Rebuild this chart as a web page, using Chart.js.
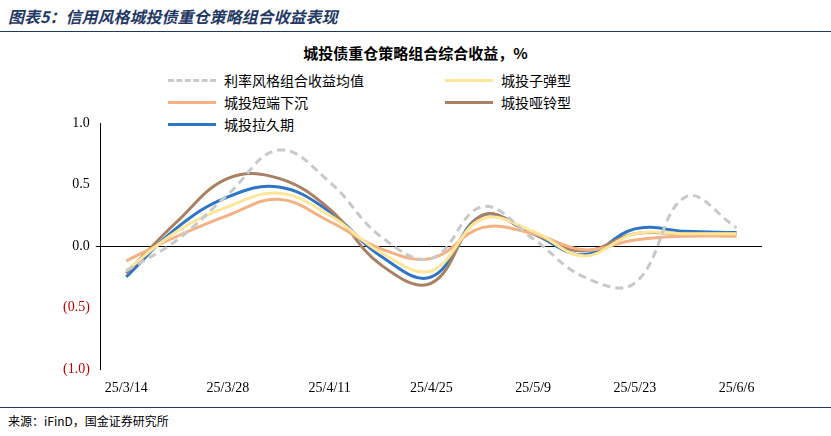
<!DOCTYPE html>
<html><head><meta charset="utf-8">
<script src="https://cdn.jsdelivr.net/npm/chart.js@4"></script>
<style>
body{margin:0;width:831px;height:436px;background:#fff;font-family:"Noto Sans CJK SC";position:relative;overflow:hidden}
#head{position:absolute;left:8px;top:4px;font-size:16px;font-weight:bold;font-style:italic;color:#1f3864}
#hline{position:absolute;left:0;top:31px;width:831px;border-top:1.5px solid #1f3864}
#sub{position:absolute;left:0;width:831px;top:42px;text-align:center;font-size:15px;font-weight:bold;color:#000}
.lg{position:absolute;font-size:14px;color:#000;display:flex;align-items:center}
.lg i{display:inline-block;width:48px;height:0;margin-right:8px}
#foot{position:absolute;left:8px;top:412px;font-size:12px;color:#000}
#fline{position:absolute;left:0;top:407px;width:831px;border-top:1px solid #1f3864}
canvas{position:absolute;left:0;top:0}
</style></head><body>
<div id="head">图表5：信用风格城投债重仓策略组合收益表现</div>
<div id="hline"></div>
<div id="sub">城投债重仓策略组合综合收益，%</div>
<div class="lg" style="left:168px;top:70px"><i style="border-top:3px dashed #c9c9c9"></i>利率风格组合收益均值</div>
<div class="lg" style="left:445px;top:70px"><i style="border-top:3px solid #ffe699"></i>城投子弹型</div>
<div class="lg" style="left:168px;top:92px"><i style="border-top:3px solid #f4b183"></i>城投短端下沉</div>
<div class="lg" style="left:445px;top:92px"><i style="border-top:3px solid #a88064"></i>城投哑铃型</div>
<div class="lg" style="left:168px;top:114px"><i style="border-top:3px solid #2e75c6"></i>城投拉久期</div>
<div id="fline"></div>
<div id="foot">来源：iFinD，国金证券研究所</div>
<canvas id="c" width="831" height="436"></canvas>
<script>
const dates = ['25/3/14','25/3/21','25/3/28','25/4/3','25/4/11','25/4/18','25/4/25','25/5/2','25/5/9','25/5/16','25/5/23','25/5/30','25/6/6'];
const rateStyle = [-0.2, 0.05, 0.42, 0.78, 0.52, 0.08, -0.1, 0.32, 0.06, -0.25, -0.3, 0.4, 0.15];
const bullet = [-0.2, 0.12, 0.32, 0.43, 0.25, -0.05, -0.2, 0.22, 0.12, -0.08, 0.1, 0.1, 0.1];
const shortSink = [-0.12, 0.08, 0.25, 0.38, 0.2, -0.02, -0.1, 0.15, 0.1, -0.03, 0.05, 0.08, 0.08];
const barbell = [-0.22, 0.2, 0.55, 0.55, 0.3, -0.15, -0.3, 0.25, 0.1, -0.04, 0.1, 0.1, 0.1];
const duration = [-0.25, 0.15, 0.4, 0.48, 0.28, -0.08, -0.25, 0.25, 0.1, -0.07, 0.14, 0.12, 0.11];
const yTicks = {'1':'1.0','0.5':'0.5','0':'0.0','-0.5':'(0.5)','-1':'(1.0)'};

const ds = (label, data, color, dash) => ({label, data, borderColor: color, borderWidth: 3,
  borderDash: dash || [], pointRadius: 0, tension: 0.4, fill: false});

new Chart(document.getElementById('c'), {
  type: 'line',
  data: {labels: dates, datasets: [
    ds('利率风格组合收益均值', rateStyle, '#c9c9c9', [8, 5]),
    ds('城投子弹型', bullet, '#ffe699'),
    ds('城投短端下沉', shortSink, '#f4b183'),
    ds('城投哑铃型', barbell, '#a88064'),
    ds('城投拉久期', duration, '#2e75c6')
  ]},
  options: {
    responsive: false, animation: false,
    layout: {padding: {top: 123, left: 57, right: 69, bottom: 36}},
    plugins: {legend: {display: false}, tooltip: {enabled: false}},
    scales: {
      x: {offset: true, grid: {display: false}, border: {display: false},
        ticks: {autoSkip: false, maxRotation: 0, color: '#000', font: {family: 'Liberation Serif', size: 14},
          callback: (v, i) => i % 2 === 0 ? dates[i] : ''}},
      y: {min: -1, max: 1, afterBuildTicks: a => { a.ticks = [-1, -0.5, 0, 0.5, 1].map(v => ({value: v})); },
        border: {display: true, color: '#000'},
        grid: {drawTicks: true, tickLength: 5, color: c => c.tick && c.tick.value === 0 ? '#000' : 'rgba(0,0,0,0)'},
        ticks: {padding: 6, color: c => c.tick.value < 0 ? '#c00000' : '#000', font: {family: 'Liberation Serif', size: 14},
          callback: v => yTicks[String(v)]}}
    }
  }
});
</script>
</body></html>
